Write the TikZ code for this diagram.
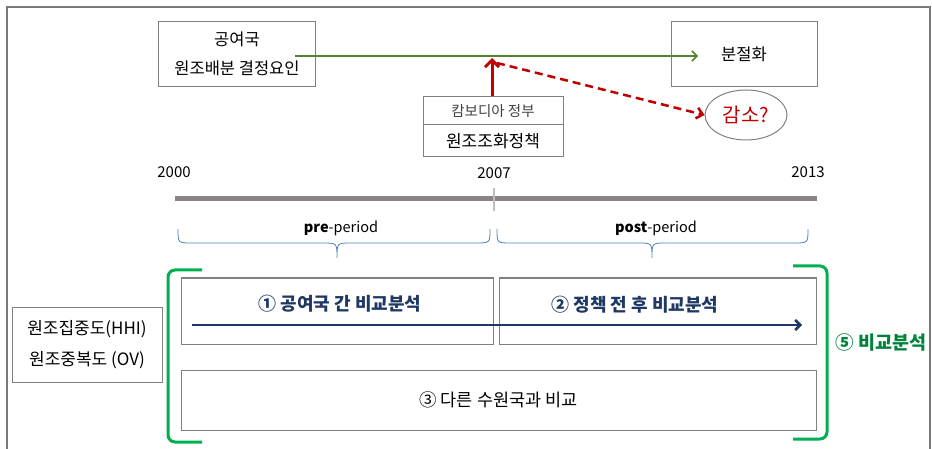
\documentclass[tikz,border=0pt]{standalone}
\usepackage{fontspec}
\setmainfont{Noto Sans CJK KR}
\usetikzlibrary{arrows.meta,shapes.geometric}
\definecolor{boxgray}{RGB}{128,128,128}
\definecolor{framegray}{RGB}{120,120,120}
\definecolor{bargray}{RGB}{140,132,132}
\definecolor{tickgray}{RGB}{190,190,190}
\definecolor{olivegreen}{RGB}{84,130,53}
\definecolor{darkred}{RGB}{192,0,0}
\definecolor{navy}{RGB}{31,56,100}
\definecolor{bracegreen}{RGB}{0,176,80}
\definecolor{textgreen}{RGB}{0,130,60}
\definecolor{braceblue}{RGB}{79,129,189}
\definecolor{subgray}{RGB}{64,64,64}
\begin{document}
\begin{tikzpicture}[x=1pt,y=-1pt,
  boxst/.style={draw=boxgray, line width=1pt, inner sep=0pt, align=center},
  yearst/.style={inner sep=0pt, font=\fontsize{15}{17}\selectfont},
  bracest/.style={draw=braceblue, line width=0.8pt},
  bracketst/.style={draw=bracegreen, line width=3pt, rounded corners=7pt},
  periodst/.style={inner sep=0pt, font=\fontsize{14.5}{16}\selectfont}]
\useasboundingbox (0,0) rectangle (932,449);
% outer frame
\draw[framegray, line width=2pt] (7,449) -- (7,7) -- (930,7) -- (930,449);

% top boxes
\node[boxst, minimum width=157pt, minimum height=65pt,
  font=\fontsize{16.5}{29}\selectfont] (donor) at (237,54) {공여국\\원조배분 결정요인};
\node[boxst, minimum width=146pt, minimum height=65pt,
  font=\fontsize{16.5}{18}\selectfont] (frag) at (744,54) {분절화};
\node[boxst, minimum width=140pt, minimum height=28pt, text=subgray,
  font=\fontsize{14.5}{16}\selectfont] (camb1) at (493,111) {캄보디아 정부};
\node[boxst, minimum width=140pt, minimum height=32pt,
  font=\fontsize{17}{19}\selectfont] (camb2) at (493,141) {원조조화정책};
\node[ellipse, draw=boxgray, line width=1pt, minimum width=82pt, minimum height=50pt,
  inner sep=0pt, text=darkred, font=\fontsize{20}{22}\selectfont] (dec) at (746,115) {감소?};

% connectors
\coordinate (gs) at (295,56);
\coordinate (ge) at (698,56);
\draw[olivegreen, line width=1.5pt, -{Straight Barb[length=5pt,width=10pt]}] (gs) -- (ge);
\coordinate (jn) at (492,58);
\draw[darkred, line width=3pt, -{Straight Barb[length=7pt,width=14pt]}] (camb1.north -| jn) -- (jn);
\coordinate (ds) at (497,63);
\draw[darkred, line width=2.5pt, dash pattern=on 8pt off 5pt,
  -{Straight Barb[length=6pt,width=11pt]}] (ds) -- (dec.west);

% timeline
\node[yearst] (y0) at (174,172) {2000};
\node[yearst] (y7) at (494,173) {2007};
\node[yearst] (y13) at (808,172) {2013};
\coordinate (t0) at (175,199);
\coordinate (t1) at (817,199);
\draw[bargray, line width=5pt] (t0) -- (t1);
\coordinate (k0) at (494,188);
\coordinate (k1) at (494,211);
\draw[tickgray, line width=1.5pt] (k0) -- (k1);

% braces
\draw[bracest] (178,229) .. controls (178,243) .. (192,243) -- (323,243)
  .. controls (337,243) .. (337,258) .. controls (337,243) .. (351,243)
  -- (476,243) .. controls (490,243) .. (490,229);
\draw[bracest] (497,229) .. controls (497,243) .. (511,243) -- (638,243)
  .. controls (652,243) .. (652,258) .. controls (652,243) .. (666,243)
  -- (794,243) .. controls (808,243) .. (808,229);
\node[periodst] (pre) at (341,228) {\textbf{pre}-period};
\node[periodst] (post) at (656,228) {\textbf{post}-period};

% bottom section
\node[boxst, minimum width=150pt, minimum height=75pt,
  font=\fontsize{17}{31}\selectfont] (ind) at (87,344.5) {원조집중도(HHI)\\원조중복도 (OV)};
\draw[bracketst] (202,270) -- (168,270) -- (168,442) -- (202,442);
\draw[bracketst] (793,266) -- (827,266) -- (827,439) -- (793,439);

\node[boxst, minimum width=312pt, minimum height=66pt] (b1) at (337,311) {};
\node[boxst, minimum width=317pt, minimum height=66pt] (b2) at (657.5,311) {};
\node[boxst, minimum width=635pt, minimum height=60pt,
  font=\fontsize{17.5}{19}\selectfont] (b3) at (498.5,400) {③ 다른 수원국과 비교};
\node[inner sep=0pt, text=navy, font=\bfseries\fontsize{18}{20}\selectfont] (l1) at (340,304) {① 공여국 간 비교분석};
\node[inner sep=0pt, text=navy, font=\bfseries\fontsize{18}{20}\selectfont] (l2) at (635,305) {② 정책 전 후 비교분석};
\coordinate (na) at (192,325);
\coordinate (nb) at (802,325);
\draw[navy, line width=2.5pt, -{Straight Barb[length=5pt,width=10pt]}] (na) -- (nb);
\node[inner sep=0pt, text=textgreen, font=\bfseries\fontsize{18.5}{20}\selectfont] (l5) at (881,342) {⑤ 비교분석};
\end{tikzpicture}
\end{document}
